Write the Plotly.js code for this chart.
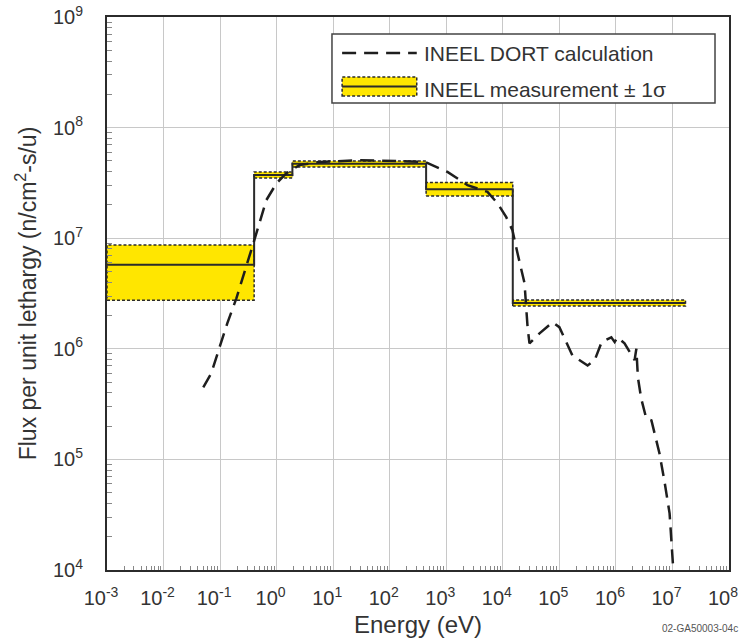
<!DOCTYPE html>
<html>
<head>
<meta charset="utf-8">
<script src="https://cdn.plot.ly/plotly-3.0.1.min.js"></script>
<style>
html,body{margin:0;padding:0;background:#fff;}
#chart{width:743px;height:641px;}
</style>
</head>
<body>
<div id="chart"></div>
<script>
// ---- Measurement (INEEL) step bands ----
const bandEdges = [1e-3, 0.4, 1.9, 440, 1.5e4, 1.7e7];
const measValue = [5.74e6, 3.72e7, 4.72e7, 2.77e7, 2.6e6];
const measLow   = [2.75e6, 3.5e7, 4.41e7, 2.41e7, 2.44e6];
const measHigh  = [8.68e6, 3.97e7, 5.0e7, 3.19e7, 2.76e6];

// ---- DORT calculation ----
const dortEnergy = [0.0504, 0.0698, 0.0966, 0.134, 0.194, 0.291, 0.403, 0.657, 1.0, 1.49, 2.52, 5.7, 29, 148, 427,
  1050, 2370, 5350, 8050, 1.15e4, 1.48e4, 1.82e4, 2.42e4, 2.74e4, 2.96e4, 4.46e4, 7.6e4, 1.0e5, 1.34e5, 1.7e5,
  3.16e5, 4.2e5, 5.6e5, 8.3e5, 9.5e5, 1.07e6, 1.42e6, 2.14e6, 2.3e6, 2.45e6, 2.8e6, 3.45e6, 4.25e6, 4.84e6,
  5.9e6, 7.2e6, 8.9e6, 1.05e7];
const dortFlux = [4.49e5, 6.0e5, 1.01e6, 1.70e6, 2.86e6, 5.47e6, 9.6e6, 2.21e7, 3.15e7, 3.87e7, 4.58e7, 4.88e7, 5.08e7, 4.98e7, 4.88e7,
  3.98e7, 3.02e7, 2.62e7, 2.07e7, 1.55e7, 1.18e7, 7.3e6, 3.92e6, 1.57e6, 1.12e6, 1.38e6, 1.74e6, 1.57e6, 1.12e6, 8.7e5,
  7.07e5, 7.87e5, 1.15e6, 1.27e6, 1.15e6, 1.27e6, 1.12e6, 7.9e5, 1.0e6, 5.5e5, 3.55e5, 2.34e5, 2.25e5, 1.72e5,
  1.13e5, 6.4e4, 3.25e4, 9.0e3];

// ---- Axis ticks ----
const xTickExp = [-3, -2, -1, 0, 1, 2, 3, 4, 5, 6, 7, 8];
const yTickExp = [4, 5, 6, 7, 8, 9];

const YELLOW = '#FFE600';
const DARK = '#2b2b2b';
const FONT = 'Liberation Sans, Arial, sans-serif';

function minorVals(exps) {
  const out = [];
  for (let i = 0; i < exps.length - 1; i++) {
    for (let m = 2; m <= 9; m++) out.push(m * Math.pow(10, exps[i]));
  }
  return out;
}

const traces = [];
for (let i = 0; i < measValue.length; i++) {
  const e0 = bandEdges[i], e1 = bandEdges[i + 1];
  traces.push({
    x: [e0, e1, e1, e0, e0],
    y: [measLow[i], measLow[i], measHigh[i], measHigh[i], measLow[i]],
    mode: 'lines', fill: 'toself', fillcolor: YELLOW,
    line: {color: DARK, width: 1.5, dash: '3px,2px'},
    showlegend: false, hoverinfo: 'skip'
  });
}
traces.push({
  x: bandEdges,
  y: measValue.concat([measValue[measValue.length - 1]]),
  mode: 'lines', line: {shape: 'hv', color: DARK, width: 2},
  name: 'INEEL measurement ± 1σ', showlegend: false
});
traces.push({
  x: dortEnergy, y: dortFlux,
  mode: 'lines', line: {color: '#1e1e1e', width: 2.5, dash: '14px,8px'},
  name: 'INEEL DORT calculation', showlegend: false
});

// legend geometry in paper coords
const L = {x0: 0.3617, x1: 0.9775, y0: 0.8445, y1: 0.9693, sx0: 0.378, sx1: 0.498, tx: 0.5064,
  r1: 0.9349, r2: 0.868, bTop: 0.8915, bBot: 0.8445 + 0.0128};

const layout = {
  width: 743, height: 641,
  margin: {l: 107, r: 14, t: 17, b: 71},
  paper_bgcolor: '#fff', plot_bgcolor: '#fff',
  font: {family: FONT, color: '#333'},
  showlegend: false,
  xaxis: {
    type: 'log', range: [-3, 8],
    tickmode: 'array',
    tickvals: xTickExp.map(e => Math.pow(10, e)),
    ticktext: xTickExp.map(e => '10<sup>' + e + '</sup>'),
    tickfont: {size: 20, color: '#333', family: FONT},
    ticks: '', ticklabelstandoff: 9, ticklabelshift: -6, ticklabeloverflow: 'allow',
    showgrid: true, gridcolor: '#c8c8c8', gridwidth: 1,
    showline: true, linecolor: DARK, linewidth: 2, mirror: true,
    zeroline: false,
    minor: {tickmode: 'array', tickvals: minorVals(xTickExp), ticks: 'inside', ticklen: 4, tickcolor: '#888', tickwidth: 1, showgrid: false},
    title: {text: 'Energy (eV)', font: {size: 24, color: '#333', family: FONT}, standoff: 8}
  },
  yaxis: {
    type: 'log', range: [4, 9],
    tickmode: 'array',
    tickvals: yTickExp.map(e => Math.pow(10, e)),
    ticktext: yTickExp.map(e => '10<sup>' + e + '</sup>'),
    tickfont: {size: 20, color: '#333', family: FONT},
    ticks: '', ticklabelstandoff: 18, ticklabeloverflow: 'allow',
    showgrid: true, gridcolor: '#c8c8c8', gridwidth: 1,
    showline: true, linecolor: DARK, linewidth: 2, mirror: true,
    zeroline: false,
    minor: {tickmode: 'array', tickvals: minorVals(yTickExp), ticks: 'inside', ticklen: 5, tickcolor: '#888', tickwidth: 1, showgrid: false},
    title: {text: 'Flux per unit lethargy (n/cm<sup>2</sup>-s/u)', font: {size: 23, color: '#333', family: FONT}, standoff: 10}
  },
  shapes: [
    {type: 'rect', xref: 'paper', yref: 'paper', x0: L.x0, x1: L.x1, y0: L.y0, y1: L.y1,
      fillcolor: '#fff', line: {color: '#444', width: 1.5}, layer: 'above'},
    {type: 'line', xref: 'paper', yref: 'paper', x0: L.sx0, x1: L.sx1, y0: L.r1, y1: L.r1,
      line: {color: '#1e1e1e', width: 2.5, dash: '14px,8px'}, layer: 'above'},
    {type: 'rect', xref: 'paper', yref: 'paper', x0: L.sx0, x1: L.sx1, y0: L.bBot, y1: L.bTop,
      fillcolor: YELLOW, line: {color: DARK, width: 1.5, dash: '3px,2px'}, layer: 'above'},
    {type: 'line', xref: 'paper', yref: 'paper', x0: L.sx0, x1: L.sx1, y0: (L.bBot + L.bTop) / 2, y1: (L.bBot + L.bTop) / 2,
      line: {color: DARK, width: 2}, layer: 'above'}
  ],
  annotations: [
    {xref: 'paper', yref: 'paper', x: L.tx, y: L.r1, xanchor: 'left', yanchor: 'middle', showarrow: false,
      text: 'INEEL DORT calculation', font: {size: 21, color: '#333', family: FONT}},
    {xref: 'paper', yref: 'paper', x: L.tx, y: L.r2, xanchor: 'left', yanchor: 'middle', showarrow: false,
      text: 'INEEL measurement ± 1σ', font: {size: 21, color: '#333', family: FONT}},
    {xref: 'paper', yref: 'paper', x: 1.018, y: -0.105, xanchor: 'right', yanchor: 'middle', showarrow: false,
      text: '02-GA50003-04c', font: {size: 10, color: '#555', family: FONT}}
  ]
};

Plotly.newPlot('chart', traces, layout, {displayModeBar: false, staticPlot: true});
</script>
</body>
</html>
